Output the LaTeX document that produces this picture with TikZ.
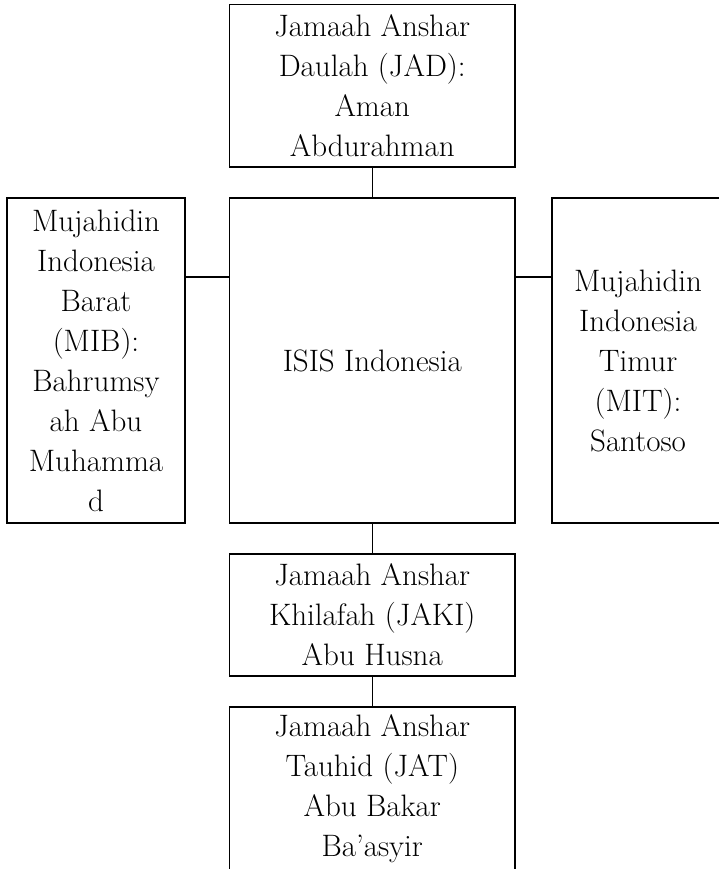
\documentclass[tikz,border=0pt]{standalone}
\usepackage{tikz}
\usetikzlibrary{positioning}
\tikzset{
  orgbox/.style={rectangle, draw, line width=1.2pt, inner sep=0pt, outer sep=0pt,
                 align=center, font=\fontsize{31}{40}\selectfont},
  wide/.style={minimum width=285.5pt},
  side/.style={minimum width=178pt, minimum height=325pt},
  link/.style={line width=1.2pt},
}
\begin{document}
\begin{tikzpicture}[x=1pt, y=1pt]
  \useasboundingbox (0,0) rectangle (719,-869);
  \node[orgbox, wide, minimum height=325pt] (isis) at (372.25,-360.5) {ISIS Indonesia};
  \node[orgbox, wide, minimum height=162.5pt] (jad) [above=31pt of isis] {Jamaah Anshar\\Daulah (JAD):\\Aman\\Abdurahman};
  \node[orgbox, side] (mib) [left=44.5pt of isis] {Mujahidin\\Indonesia\\Barat\\(MIB):\\Bahrumsy\\ah Abu\\Muhamma\\d};
  \node[orgbox, side, minimum width=172pt] (mit) [right=37pt of isis] {Mujahidin\\Indonesia\\Timur\\(MIT):\\Santoso};
  \node[orgbox, wide, minimum height=122pt] (jaki) [below=31pt of isis] {Jamaah Anshar\\Khilafah (JAKI)\\Abu Husna};
  \node[orgbox, wide, minimum height=163pt] (jat) [below=31pt of jaki] {Jamaah Anshar\\Tauhid (JAT)\\Abu Bakar\\Ba'asyir};

  \draw[link] (jad.south) -- (isis.north);
  \draw[link] ([yshift=-79pt]mib.north east) -- ([yshift=-79pt]isis.north west);
  \draw[link] ([yshift=-79pt]isis.north east) -- ([yshift=-79pt]mit.north west);
  \draw[link] (isis.south) -- (jaki.north);
  \draw[link] (jaki.south) -- (jat.north);
\end{tikzpicture}
\end{document}
